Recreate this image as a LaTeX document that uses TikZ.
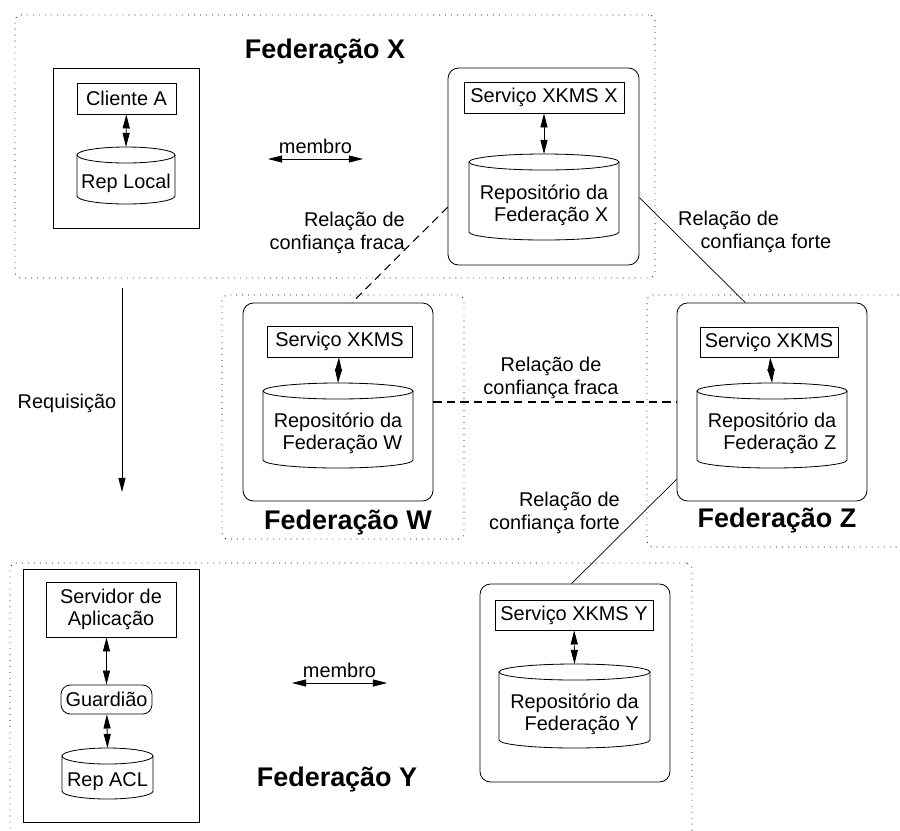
\documentclass[tikz,border=0pt]{standalone}
\usepackage{fontspec}
\setmainfont{Liberation Sans}
\usetikzlibrary{arrows.meta,fit}
% nome, x, topo, base, largura, texto
\newcommand{\repositorio}[6]{%
  \node (#1) [tam={#5}{(#4-#3-16)}, align=right] at (#2,{(#3+#4)/2+8}) {#6};
  \coordinate (#1-topo) at (#2,#3);
  \draw[cilindro] (#2,#3+8) ellipse [x radius=#5/2, y radius=8];
  \draw[cilindro] ({#2-#5/2},#3+8) -- ({#2-#5/2},#4-8)
    arc[start angle=180, end angle=0, x radius=#5/2, y radius=8] -- ({#2+#5/2},#3+8);
}
\begin{document}
\begin{tikzpicture}[x=0.03cm,y=-0.03cm]
\tikzstyle{every node}=[font=\fontsize{17}{19}\selectfont, inner sep=0pt]
\tikzset{tam/.style 2 args={minimum width=#1*0.03cm, minimum height=#2*0.03cm}}
\tikzstyle{federacao}=[draw, line width=0.7pt, dash pattern=on 0.7pt off 4.4pt, rounded corners=5pt]
\tikzstyle{titulo}=[font=\fontsize{23}{26}\selectfont\bfseries]
\tikzstyle{caixa}=[draw, line width=0.7pt]
\tikzstyle{servico}=[draw, line width=0.7pt, rounded corners=9pt]
\tikzstyle{cilindro}=[line width=0.7pt]
\tikzstyle{seta}=[line width=0.7pt, {Triangle[length=12pt,width=6pt]}-{Triangle[length=12pt,width=6pt]}]
\tikzstyle{setaf}=[line width=0.7pt, -{Triangle[length=12pt,width=6pt]}]
\tikzstyle{forte}=[line width=0.6pt]
\tikzstyle{fraca}=[line width=0.9pt, dash pattern=on 7pt off 4.5pt]

\useasboundingbox (0,0) rectangle (900,830);
\clip (0,0) rectangle (900,830);

\node (fedX) [federacao, fit={(15,15) (655,278)}] {};
\node (fedW) [federacao, fit={(222,295) (464,539)}] {};
\node (fedZ) [federacao, fit={(647,295) (940,547)}] {};
\node (fedY) [federacao, fit={(10,563) (692,870)}] {};

\node (tituloX) [titulo] at (325,52) {Federação X};
\node (tituloW) [titulo] at (348,523) {Federação W};
\node (tituloZ) [titulo] at (777,521) {Federação Z};
\node (tituloY) [titulo] at (337,780) {Federação Y};

\node (ladoX) [caixa, fit={(53,68) (199,228)}] {};
\node (cliente) [caixa, tam={99}{31}] at (126.5,98.5) {Cliente A};
\repositorio{repLocal}{126}{147}{204}{98}{Rep Local}
\draw[seta] (cliente) -- (repLocal-topo);

\node (servX) [servico, fit={(448,68) (639,265)}] {};
\node (xkmsX) [caixa, tam={160}{31}] at (544,97.5) {Serviço XKMS X};
\repositorio{repX}{544}{154}{240}{150}{Repositório da\\Federação X}
\draw[seta] (xkmsX) -- (repX-topo);

\node (boxW) [servico, fit={(243,303) (433,501)}] {};
\node (xkmsW) [caixa, tam={145}{31}] at (339.5,341.5) {Serviço XKMS};
\repositorio{repW}{338}{383}{468}{150}{Repositório da\\Federação W}
\draw[seta] (xkmsW) -- (repW-topo);

\node (boxZ) [servico, fit={(677,303) (867,501)}] {};
\node (xkmsZ) [caixa, tam={138}{30}] at (769,342) {Serviço XKMS};
\repositorio{repZ}{772}{383}{468}{150}{Repositório da\\Federação Z}
\draw[seta] (xkmsZ) -- (repZ-topo);

\node (ladoY) [caixa, fit={(23,569) (199,822)}] {};
\node (servidor) [caixa, align=center, tam={130}{55}] at (111,609.5) {Servidor de\\Aplicação};
\node (guardiao) [caixa, rounded corners=8pt, tam={91}{29}] at (106.5,699.5) {Guardião};
\repositorio{repACL}{107.5}{748}{799}{91}{Rep ACL}
\draw[seta] (guardiao.north |- servidor.south) -- (guardiao.north);
\draw[seta] (guardiao) -- (repACL-topo);

\node (boxY) [servico, fit={(480,584) (670,782)}] {};
\node (xkmsY) [caixa, tam={158}{30}] at (574,615) {Serviço XKMS Y};
\repositorio{repY}{574.5}{664}{748}{151}{Repositório da\\Federação Y}
\draw[seta] (xkmsY) -- (repY-topo);

\coordinate (membroXa) at (268,159);
\coordinate (membroXb) at (363,159);
\draw[seta] (membroXa) -- node[above=4pt] {membro} (membroXb);
\coordinate (membroYa) at (292,683);
\coordinate (membroYb) at (387,683);
\draw[seta] (membroYa) -- node[above=4pt] {membro} (membroYb);

\coordinate (reqA) at (122,288);
\coordinate (reqB) at (122,492);
\draw[setaf] (reqA) -- (reqB);
\node (req) at (67,403) {Requisição};

\draw[fraca] (servX.203) -- (boxW.82);
\node (rotFracaXW) [align=right, anchor=east] at (405,233) {Relação de\\confiança fraca};
\draw[forte] (servX.342) -- (boxZ.105);
\node (rotForteXZ) [align=left, anchor=west] at (678,232) {Relação de\\\hspace*{19pt}confiança forte};
\draw[fraca] (boxW) -- (boxZ);
\node (rotFracaWZ) [align=center] at (551,378) {Relação de\\confiança fraca};
\draw[forte] (boxZ.219) -- (boxY.92);
\node (rotForteZY) [align=right, anchor=east] at (620,513) {Relação de\\confiança forte};
\end{tikzpicture}
\end{document}
